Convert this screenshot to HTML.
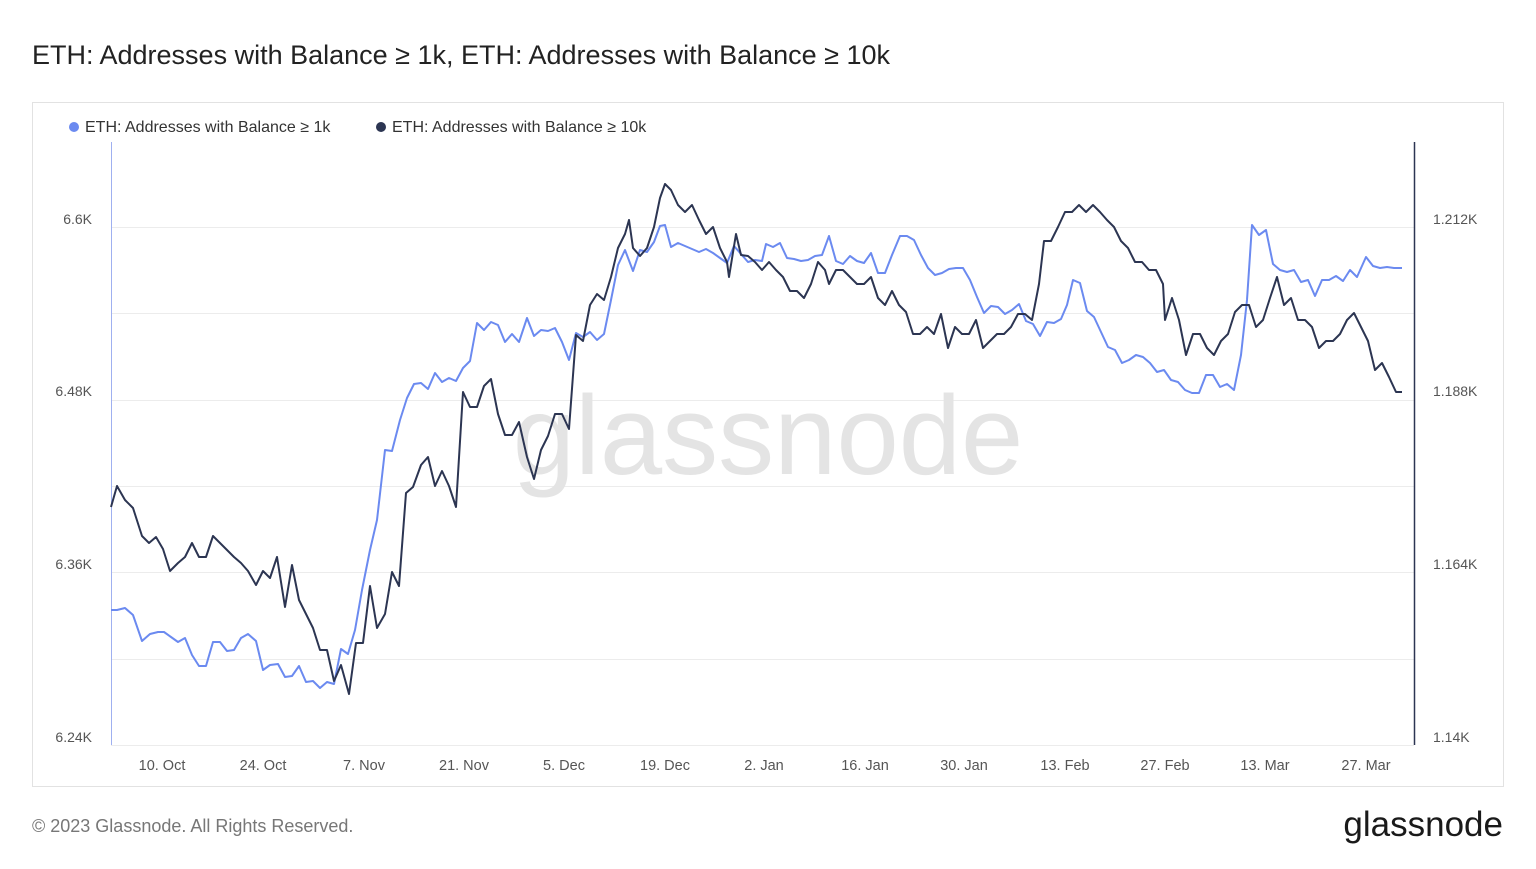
<!DOCTYPE html>
<html><head><meta charset="utf-8"><style>
body{margin:0;background:#fff;width:1536px;height:864px;overflow:hidden;font-family:"Liberation Sans",sans-serif}
</style></head><body>
<svg width="1536" height="864" xmlns="http://www.w3.org/2000/svg" font-family="Liberation Sans, sans-serif">
<text x="32" y="64" font-size="27" fill="#222">ETH: Addresses with Balance ≥ 1k, ETH: Addresses with Balance ≥ 10k</text>
<rect x="32.5" y="102.5" width="1471" height="684" fill="none" stroke="#e2e2e2"/>
<circle cx="74" cy="127" r="5" fill="#6b8af0"/>
<text x="85" y="132" font-size="16" fill="#333">ETH: Addresses with Balance ≥ 1k</text>
<circle cx="381" cy="127" r="5" fill="#2c3552"/>
<text x="392" y="132" font-size="16" fill="#333">ETH: Addresses with Balance ≥ 10k</text>
<g stroke="#ececec" stroke-width="1">
<line x1="111" x2="1414" y1="227.5" y2="227.5"/><line x1="111" x2="1414" y1="313.5" y2="313.5"/>
<line x1="111" x2="1414" y1="400.5" y2="400.5"/><line x1="111" x2="1414" y1="486.5" y2="486.5"/>
<line x1="111" x2="1414" y1="572.5" y2="572.5"/><line x1="111" x2="1414" y1="659.5" y2="659.5"/>
<line x1="111" x2="1414" y1="745.5" y2="745.5"/>
</g>
<line x1="111.5" x2="111.5" y1="142" y2="745" stroke="#9fb0f0"/>
<line x1="1414.5" x2="1414.5" y1="142" y2="745" stroke="#2c3552" stroke-width="1.5"/>
<text x="768" y="474" font-size="112" fill="#e4e4e4" text-anchor="middle">glassnode</text>
<g font-size="14" fill="#555" text-anchor="end">
<text x="92" y="224">6.6K</text><text x="92" y="396">6.48K</text><text x="92" y="569">6.36K</text><text x="92" y="742">6.24K</text>
</g>
<g font-size="14" fill="#555">
<text x="1433" y="224">1.212K</text><text x="1433" y="396">1.188K</text><text x="1433" y="569">1.164K</text><text x="1433" y="742">1.14K</text>
</g>
<g font-size="14.5" fill="#555" text-anchor="middle">
<text x="162" y="770">10. Oct</text><text x="263" y="770">24. Oct</text><text x="364" y="770">7. Nov</text><text x="464" y="770">21. Nov</text><text x="564" y="770">5. Dec</text><text x="665" y="770">19. Dec</text><text x="764" y="770">2. Jan</text><text x="865" y="770">16. Jan</text><text x="964" y="770">30. Jan</text><text x="1065" y="770">13. Feb</text><text x="1165" y="770">27. Feb</text><text x="1265" y="770">13. Mar</text><text x="1366" y="770">27. Mar</text>
</g>
<polyline fill="none" stroke="#6b8af0" stroke-width="2" stroke-linejoin="round" points="111,610 117,610 125,608 133,615 142,641 150,634 158,632 164,632 171,637 178,642 185,638 192,655 199,666 206,666 213,642 220,642 227,651 234,650 241,638 248,634 256,641 263,670 270,665 278,664 285,677 292,676 299,666 306,682 313,681 320,688 327,682 334,684 341,649 348,654 355,630 362,590 370,550 377,520 385,450 392,451 400,420 407,398 414,384 421,383 428,389 435,373 442,382 449,378 456,381 463,368 470,361 477,323 484,330 491,322 498,325 505,342 512,334 519,342 527,318 534,336 541,330 548,331 555,328 562,342 569,360 576,333 583,337 590,332 597,340 604,334 611,300 618,265 625,250 633,271 640,250 647,252 654,242 660,226 665,225 671,247 678,243 685,246 692,249 699,252 706,249 713,253 720,258 727,263 734,246 741,254 748,262 755,260 762,261 766,244 773,247 780,243 787,258 794,259 801,261 808,260 815,256 822,255 829,236 836,261 843,264 850,256 857,261 864,263 871,253 878,273 885,273 892,255 900,236 907,236 914,240 921,255 928,268 935,275 942,273 949,269 956,268 963,268 970,280 977,297 984,313 991,306 998,307 1005,314 1012,310 1019,304 1026,321 1033,324 1040,336 1047,322 1054,323 1061,319 1067,305 1073,280 1080,283 1087,311 1094,317 1101,332 1108,347 1115,350 1122,363 1129,360 1136,355 1143,357 1150,363 1157,372 1164,370 1171,380 1178,382 1185,390 1192,393 1199,393 1206,375 1213,375 1220,387 1227,384 1234,390 1241,355 1247,300 1252,225 1259,235 1266,230 1273,264 1280,270 1287,272 1294,270 1301,282 1308,280 1315,296 1322,280 1329,280 1336,276 1343,281 1350,270 1357,277 1366,257 1373,266 1380,268 1387,267 1394,268 1402,268"/>
<polyline fill="none" stroke="#2c3552" stroke-width="2" stroke-linejoin="round" points="111,507 117,486 125,500 133,508 142,536 149,543 156,537 163,549 170,571 178,563 185,557 192,543 199,557 206,557 213,536 220,543 227,550 234,557 241,563 248,571 256,585 263,571 270,578 277,557 285,607 292,565 299,600 306,614 313,628 320,650 327,650 334,681 341,665 349,694 356,643 363,643 370,586 377,628 385,614 392,572 399,586 406,493 413,487 421,465 428,457 435,486 442,471 449,486 456,507 463,392 470,407 477,407 484,386 491,379 498,414 505,435 512,435 519,422 527,457 534,479 541,450 548,436 555,414 562,414 569,429 576,335 583,341 590,305 597,294 604,300 611,277 618,248 625,234 629,220 633,248 640,256 647,248 654,227 660,198 665,184 671,190 678,205 685,212 692,205 699,220 706,234 713,227 720,248 727,262 729,277 736,234 741,255 748,256 755,262 762,270 769,262 776,270 783,277 790,291 797,291 804,298 811,284 818,262 825,270 829,284 836,270 843,270 850,277 857,284 864,284 871,277 878,298 885,305 892,291 899,305 906,312 913,334 920,334 927,327 934,334 941,314 948,348 955,327 962,334 969,334 976,320 983,348 990,341 997,334 1004,334 1011,327 1018,314 1025,314 1032,320 1039,284 1044,241 1051,241 1058,227 1065,212 1072,212 1079,205 1086,212 1093,205 1100,212 1107,220 1114,227 1121,241 1128,248 1135,262 1142,262 1149,270 1156,270 1163,284 1165,320 1172,298 1179,320 1186,355 1193,334 1200,334 1207,348 1214,355 1221,341 1228,334 1235,312 1242,305 1249,305 1256,327 1263,320 1270,298 1277,277 1284,305 1291,298 1298,320 1305,320 1312,327 1319,348 1326,341 1333,341 1340,334 1347,320 1354,313 1361,327 1368,341 1375,370 1382,363 1389,377 1396,392 1402,392"/>
<text x="32" y="832" font-size="18" fill="#777">© 2023 Glassnode. All Rights Reserved.</text>
<text x="1503" y="836" font-size="35" fill="#1a1a1a" text-anchor="end">glassnode</text>
</svg>
</body></html>
